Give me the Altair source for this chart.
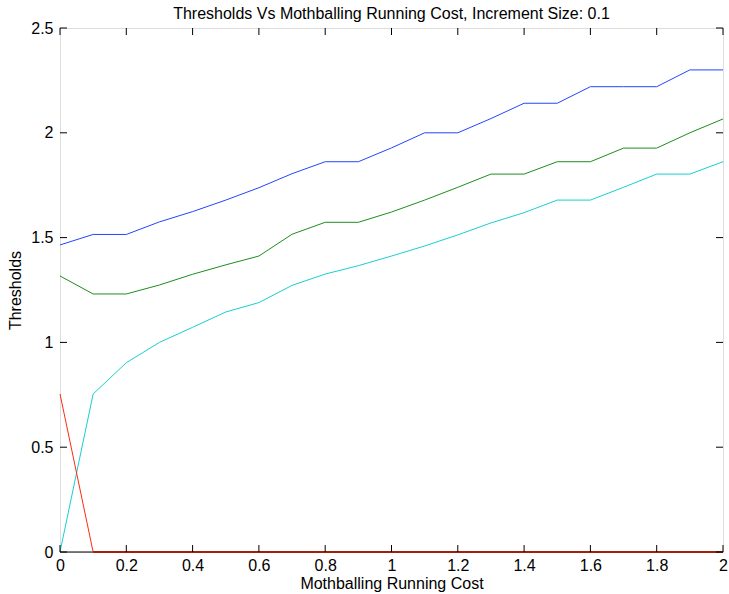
import altair as alt
import pandas as pd

# ---- data ----
cost = [0.0, 0.1, 0.2, 0.3, 0.4, 0.5, 0.6, 0.7, 0.8, 0.9, 1.0,
        1.1, 1.2, 1.3, 1.4, 1.5, 1.6, 1.7, 1.8, 1.9, 2.0]
blue = [1.465, 1.515, 1.515, 1.575, 1.624, 1.679, 1.738, 1.805, 1.862, 1.862, 1.928,
        2.0, 2.0, 2.068, 2.141, 2.141, 2.22, 2.22, 2.22, 2.30, 2.30]
green = [1.317, 1.231, 1.231, 1.274, 1.325, 1.37, 1.412, 1.516, 1.573, 1.573, 1.622,
         1.679, 1.74, 1.803, 1.803, 1.862, 1.862, 1.927, 1.927, 2.0, 2.066]
cyan = [0.0, 0.754, 0.903, 1.0, 1.072, 1.145, 1.19, 1.272, 1.326, 1.366, 1.412,
        1.46, 1.513, 1.57, 1.619, 1.679, 1.679, 1.74, 1.803, 1.803, 1.862]
red = [0.754, 0.0, 0.0, 0.0, 0.0, 0.0, 0.0, 0.0, 0.0, 0.0, 0.0,
       0.0, 0.0, 0.0, 0.0, 0.0, 0.0, 0.0, 0.0, 0.0, 0.0]
black = [0.0, 0.0, 0.0, 0.0, 0.0, 0.0, 0.0, 0.0, 0.0, 0.0, 0.0,
         0.0, 0.0, 0.0, 0.0, 0.0, 0.0, 0.0, 0.0, 0.0, 0.0]

x_ticks = [0.0, 0.2, 0.4, 0.6, 0.8, 1.0, 1.2, 1.4, 1.6, 1.8, 2.0]
y_ticks = [0.0, 0.5, 1.0, 1.5, 2.0, 2.5]

series = [("black", black, "#000000"),
          ("cyan", cyan, "#18CFCF"),
          ("green", green, "#1E8C1E"),
          ("blue", blue, "#2444FF"),
          ("red", red, "#FF2A10")]

W, H = 663, 524
FONT = "Liberation Sans"
FS = 16

xs = alt.Scale(domain=[0, 2], nice=False, zero=False)
ys = alt.Scale(domain=[0, 2.5], nice=False, zero=False)

xaxis = alt.Axis(values=x_ticks, format="~g", tickSize=0, labelPadding=5, grid=False,
                 domain=False, labelFont=FONT, labelFontSize=FS, labelColor="#000",
                 titleFont=FONT, titleFontSize=FS, titleFontWeight="normal",
                 titleColor="#000", titlePadding=2, labelFlush=False)
yaxis = alt.Axis(values=y_ticks, format="~g", tickSize=0, labelPadding=7, grid=False,
                 domain=False, labelFont=FONT, labelFontSize=FS, labelColor="#000",
                 titleFont=FONT, titleFontSize=FS, titleFontWeight="normal",
                 titleColor="#000", titlePadding=7, labelFlush=False)
XT = "Mothballing Running Cost"
YT = "Thresholds"

rows = []
for name, vals, _ in series:
    for c, v in zip(cost, vals):
        rows.append({"cost": c, "val": v, "series": name})
df = pd.DataFrame(rows)

layers = []
for name, _, col in series:
    layers.append(
        alt.Chart(df).transform_filter(alt.datum.series == name)
        .mark_line(color=col, strokeWidth=1)
        .encode(x=alt.X("cost:Q", scale=xs, axis=xaxis, title=XT),
                y=alt.Y("val:Q", scale=ys, axis=yaxis, title=YT),
                order="cost:Q")
    )

# red series' flat part rendered dark (as it sits over the black zero line)
layers.append(
    alt.Chart(df).transform_filter((alt.datum.series == "red") & (alt.datum.cost >= 0.1))
    .mark_line(color="#A0200C", strokeWidth=2)
    .encode(x=alt.X("cost:Q", scale=xs, axis=xaxis, title=XT),
            y=alt.Y("val:Q", scale=ys, axis=yaxis, title=YT),
            order="cost:Q")
)

xt = pd.DataFrame({"t": x_ticks})
yt = pd.DataFrame({"t": y_ticks})
TL = 7
tick_layers = [
    alt.Chart(xt).mark_rule(color="#000", strokeWidth=1).encode(
        x=alt.X("t:Q", scale=xs, axis=xaxis, title=XT), y=alt.value(H), y2=alt.value(H - TL)),
    alt.Chart(xt).mark_rule(color="#000", strokeWidth=1).encode(
        x=alt.X("t:Q", scale=xs, axis=xaxis, title=XT), y=alt.value(0), y2=alt.value(TL)),
    alt.Chart(yt).mark_rule(color="#000", strokeWidth=1).encode(
        y=alt.Y("t:Q", scale=ys, axis=yaxis, title=YT), x=alt.value(0), x2=alt.value(TL)),
    alt.Chart(yt).mark_rule(color="#000", strokeWidth=1).encode(
        y=alt.Y("t:Q", scale=ys, axis=yaxis, title=YT), x=alt.value(W), x2=alt.value(W - TL)),
]

chart = alt.layer(*layers, *tick_layers).properties(
    width=W, height=H,
    title=alt.TitleParams("Thresholds Vs Mothballing Running Cost, Increment Size: 0.1",
                          font=FONT, fontSize=FS, fontWeight="normal", color="#000",
                          anchor="middle", offset=0, dy=2),
    autosize=alt.AutoSizeParams(type="none"),
    padding={"left": 60, "top": 28, "right": 6, "bottom": 42},
).configure_view(stroke="#000", strokeWidth=1).configure(background="white")

chart.save("out.html", embed_options={"renderer": "svg", "actions": False})
